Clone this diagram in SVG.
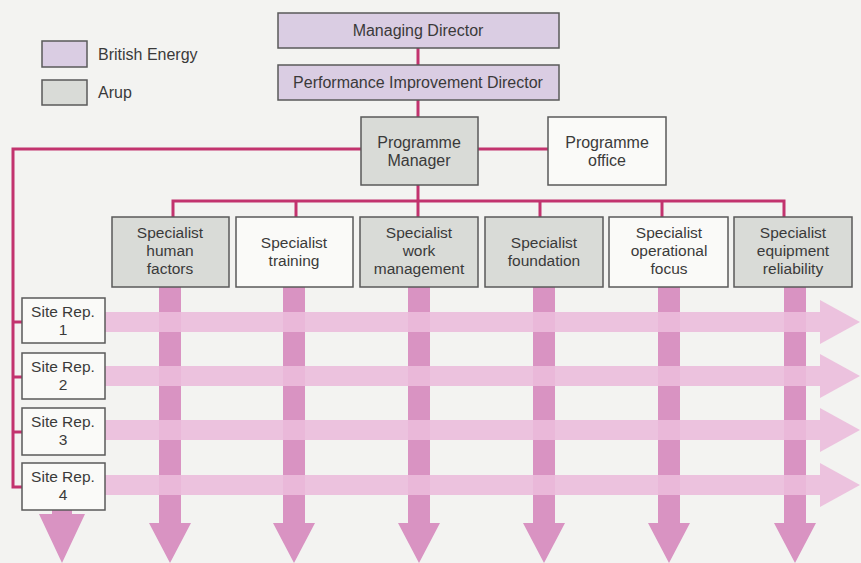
<svg xmlns="http://www.w3.org/2000/svg" width="861" height="563" viewBox="0 0 861 563">
  <defs>
    <style>
      .bg { fill: #f3f3f1; }
      .box { stroke: #5a5a5a; stroke-width: 1.5; }
      .be { fill: #dacde3; }
      .arup { fill: #d9dbd7; }
      .plain { fill: #fafaf8; }
      .lbl { font-family: "Liberation Sans", Arial, sans-serif; font-size: 16px; fill: #3a3a3a; text-anchor: middle; }
      .sm { font-size: 15.5px; }
      .leg { font-family: "Liberation Sans", Arial, sans-serif; font-size: 16px; fill: #3a3a3a; }
      .link { stroke: #c2336e; stroke-width: 3; fill: none; }
      .vflow { fill: #d993c2; }
      .hflow { fill: #ebbcdc; opacity: 0.9; }
    </style>
  </defs>

  <rect class="bg" x="0" y="0" width="861" height="563"/>

  <!-- Flow arrows: specialist streams (down) and site streams (right) -->
  <g id="flows">
    <polygon class="vflow" points="159,287 181,287 181,523 191,523 170,563 149,523 159,523"/>
    <polygon class="vflow" points="283,287 305,287 305,523 315,523 294,563 273,523 283,523"/>
    <polygon class="vflow" points="408,287 430,287 430,523 440,523 419,563 398,523 408,523"/>
    <polygon class="vflow" points="533,287 555,287 555,523 565,523 544,563 523,523 533,523"/>
    <polygon class="vflow" points="658,287 680,287 680,523 690,523 669,563 648,523 658,523"/>
    <polygon class="vflow" points="784,287 806,287 806,523 816,523 795,563 774,523 784,523"/>
    <polygon class="vflow" points="52,510 72,510 72,514 85,514 62,563 39,514 52,514"/>

    <polygon class="hflow" points="105,312 820,312 820,300 860,322 820,344 820,332 105,332"/>
    <polygon class="hflow" points="105,366 820,366 820,354 860,376 820,398 820,386 105,386"/>
    <polygon class="hflow" points="105,420 820,420 820,408 860,430 820,452 820,440 105,440"/>
    <polygon class="hflow" points="105,475 820,475 820,463 860,485 820,507 820,495 105,495"/>
  </g>

  <!-- Reporting lines -->
  <g id="connectors">
    <line class="link" x1="418" y1="48" x2="418" y2="65"/>
    <line class="link" x1="418" y1="100" x2="418" y2="117"/>
    <line class="link" x1="478" y1="149" x2="548" y2="149"/>
    <polyline class="link" points="361,149 13,149 13,487 22,487"/>
    <line class="link" x1="13" y1="322" x2="22" y2="322"/>
    <line class="link" x1="13" y1="377" x2="22" y2="377"/>
    <line class="link" x1="13" y1="432" x2="22" y2="432"/>
    <line class="link" x1="418" y1="185" x2="418" y2="217"/>
    <polyline class="link" points="173,217 173,201 784,201 784,217"/>
    <line class="link" x1="296" y1="201" x2="296" y2="217"/>
    <line class="link" x1="540" y1="201" x2="540" y2="217"/>
    <line class="link" x1="662" y1="201" x2="662" y2="217"/>
  </g>

  <!-- Key -->
  <g id="legend">
    <rect class="box be" x="42" y="41" width="45" height="26"/>
    <text class="leg" x="98" y="60">British Energy</text>
    <rect class="box arup" x="42" y="80" width="45" height="25"/>
    <text class="leg" x="98" y="98">Arup</text>
  </g>

  <g id="managing-director">
    <rect class="box be" x="278" y="13" width="281" height="35"/>
    <text class="lbl" x="418" y="36">Managing Director</text>
  </g>

  <g id="performance-improvement-director">
    <rect class="box be" x="278" y="65" width="281" height="35"/>
    <text class="lbl" x="418" y="88">Performance Improvement Director</text>
  </g>

  <g id="programme-manager">
    <rect class="box arup" x="361" y="117" width="117" height="68"/>
    <text class="lbl" x="419" y="148">Programme</text>
    <text class="lbl" x="419" y="166">Manager</text>
  </g>

  <g id="programme-office">
    <rect class="box plain" x="548" y="117" width="118" height="68"/>
    <text class="lbl" x="607" y="148">Programme</text>
    <text class="lbl" x="607" y="166">office</text>
  </g>

  <g id="specialist-human-factors">
    <rect class="box arup" x="112" y="217" width="117" height="70"/>
    <text class="lbl sm" x="170" y="238">Specialist</text>
    <text class="lbl sm" x="170" y="256">human</text>
    <text class="lbl sm" x="170" y="274">factors</text>
  </g>

  <g id="specialist-training">
    <rect class="box plain" x="236" y="217" width="117" height="70"/>
    <text class="lbl sm" x="294" y="248">Specialist</text>
    <text class="lbl sm" x="294" y="266">training</text>
  </g>

  <g id="specialist-work-management">
    <rect class="box arup" x="360" y="217" width="118" height="70"/>
    <text class="lbl sm" x="419" y="238">Specialist</text>
    <text class="lbl sm" x="419" y="256">work</text>
    <text class="lbl sm" x="419" y="274">management</text>
  </g>

  <g id="specialist-foundation">
    <rect class="box arup" x="485" y="217" width="118" height="70"/>
    <text class="lbl sm" x="544" y="248">Specialist</text>
    <text class="lbl sm" x="544" y="266">foundation</text>
  </g>

  <g id="specialist-operational-focus">
    <rect class="box plain" x="609" y="217" width="119" height="70"/>
    <text class="lbl sm" x="669" y="238">Specialist</text>
    <text class="lbl sm" x="669" y="256">operational</text>
    <text class="lbl sm" x="669" y="274">focus</text>
  </g>

  <g id="specialist-equipment-reliability">
    <rect class="box arup" x="734" y="217" width="118" height="70"/>
    <text class="lbl sm" x="793" y="238">Specialist</text>
    <text class="lbl sm" x="793" y="256">equipment</text>
    <text class="lbl sm" x="793" y="274">reliability</text>
  </g>

  <g id="site-rep-1">
    <rect class="box plain" x="22" y="298" width="83" height="45"/>
    <text class="lbl sm" x="63" y="317">Site Rep.</text>
    <text class="lbl sm" x="63" y="335">1</text>
  </g>

  <g id="site-rep-2">
    <rect class="box plain" x="22" y="353" width="83" height="46"/>
    <text class="lbl sm" x="63" y="372">Site Rep.</text>
    <text class="lbl sm" x="63" y="390">2</text>
  </g>

  <g id="site-rep-3">
    <rect class="box plain" x="22" y="408" width="83" height="47"/>
    <text class="lbl sm" x="63" y="427">Site Rep.</text>
    <text class="lbl sm" x="63" y="445">3</text>
  </g>

  <g id="site-rep-4">
    <rect class="box plain" x="22" y="463" width="83" height="47"/>
    <text class="lbl sm" x="63" y="482">Site Rep.</text>
    <text class="lbl sm" x="63" y="500">4</text>
  </g>
</svg>
